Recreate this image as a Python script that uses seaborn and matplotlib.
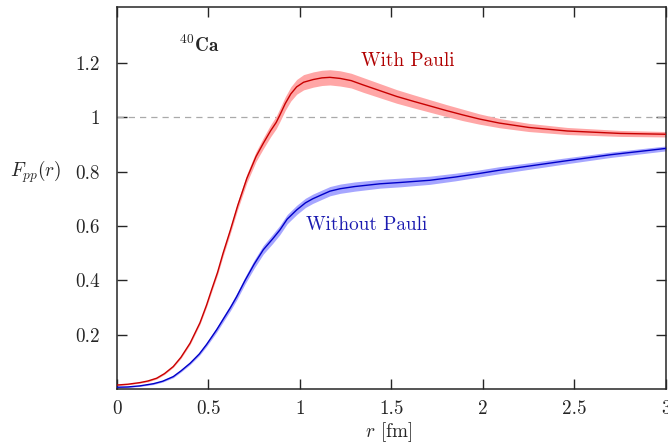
import numpy as np
import pandas as pd
import matplotlib
matplotlib.use("Agg")
import matplotlib.pyplot as plt
import seaborn as sns

# values
r_red = [0, 0.06, 0.126, 0.17, 0.217, 0.26, 0.308, 0.35, 0.40, 0.454, 0.49, 0.517, 0.55, 0.58,
         0.62, 0.66, 0.71, 0.76, 0.80, 0.84, 0.87, 0.89, 0.92, 0.95, 0.982, 1.02, 1.073, 1.12,
         1.164, 1.22, 1.28, 1.346, 1.437, 1.528, 1.62, 1.71, 1.8, 1.89, 1.98, 2.09, 2.25, 2.46,
         2.75, 3.0]
f_red = [0.016, 0.019, 0.025, 0.031, 0.041, 0.058, 0.084, 0.118, 0.17, 0.245, 0.31, 0.365,
         0.43, 0.50, 0.585, 0.675, 0.775, 0.855, 0.904, 0.95, 0.98, 1.007, 1.05, 1.085, 1.111,
         1.128, 1.138, 1.144, 1.146, 1.142, 1.134, 1.118, 1.097, 1.076, 1.058, 1.041, 1.024, 1.008,
         0.993, 0.978, 0.962, 0.949, 0.94, 0.937]
err_red = [0.002, 0.002, 0.002, 0.003, 0.003, 0.003, 0.003, 0.004, 0.005, 0.006, 0.007, 0.008,
           0.009, 0.011, 0.012, 0.014, 0.016, 0.018, 0.02, 0.022, 0.023, 0.024, 0.025, 0.026,
           0.027, 0.028, 0.028, 0.028, 0.028, 0.028, 0.027, 0.027, 0.026, 0.025, 0.024, 0.023,
           0.022, 0.021, 0.019, 0.017, 0.015, 0.013, 0.011, 0.01]

r_blue = [0, 0.06, 0.126, 0.2, 0.25, 0.308, 0.35, 0.40, 0.45, 0.49, 0.546, 0.58, 0.62, 0.654,
          0.70, 0.75, 0.80, 0.85, 0.89, 0.93, 0.982, 1.03, 1.07, 1.12, 1.164, 1.22, 1.3, 1.437,
          1.55, 1.71, 1.85, 1.98, 2.09, 2.25, 2.46, 2.7, 3.0]
f_blue = [0.008, 0.009, 0.013, 0.021, 0.03, 0.047, 0.068, 0.096, 0.13, 0.165, 0.22, 0.257, 0.30,
          0.34, 0.40, 0.46, 0.513, 0.552, 0.585, 0.625, 0.659, 0.685, 0.70, 0.715, 0.728, 0.737,
          0.745, 0.755, 0.76, 0.768, 0.78, 0.793, 0.805, 0.82, 0.84, 0.862, 0.885]
err_blue = [0.002, 0.002, 0.002, 0.003, 0.003, 0.004, 0.004, 0.005, 0.006, 0.007, 0.009, 0.01,
            0.011, 0.012, 0.013, 0.015, 0.016, 0.017, 0.017, 0.017, 0.017, 0.017, 0.017, 0.017,
            0.017, 0.017, 0.017, 0.016, 0.016, 0.015, 0.014, 0.013, 0.013, 0.012, 0.011, 0.01,
            0.009]

x_ticks = [0, 0.5, 1, 1.5, 2, 2.5, 3]
x_labels = ["0", "0.5", "1", "1.5", "2", "2.5", "3"]
y_ticks = [0.2, 0.4, 0.6, 0.8, 1.0, 1.2]
y_labels = ["0.2", "0.4", "0.6", "0.8", "1", "1.2"]

sns.set_style("ticks")
plt.rcParams.update({
    "font.family": "serif",
    "font.serif": ["cmr10"],
    "mathtext.fontset": "cm",
    "axes.unicode_minus": False,
    "axes.linewidth": 1.1,
    "xtick.direction": "in",
    "ytick.direction": "in",
    "xtick.major.size": 7,
    "ytick.major.size": 7,
    "xtick.major.width": 1.0,
    "ytick.major.width": 1.0,
    "xtick.top": True,
    "ytick.right": True,
})

red_df = pd.DataFrame({"r": r_red, "F": f_red, "err": err_red})
blue_df = pd.DataFrame({"r": r_blue, "F": f_blue, "err": err_blue})

fig = plt.figure(figsize=(6.68, 4.43), dpi=100)
ax = fig.add_axes([0.175, 0.121, 0.822, 0.863])

ax.axhline(1.0, color="#aaaaaa", lw=0.9, ls=(0, (5, 4)), zorder=1)

ax.fill_between(red_df["r"], red_df["F"] - red_df["err"], red_df["F"] + red_df["err"],
                color="#ffa6a6", lw=0, zorder=2)
ax.fill_between(blue_df["r"], blue_df["F"] - blue_df["err"], blue_df["F"] + blue_df["err"],
                color="#a6a6ff", lw=0, zorder=2)
sns.lineplot(data=red_df, x="r", y="F", color="#c80000", lw=1.0, ax=ax, zorder=3)
sns.lineplot(data=blue_df, x="r", y="F", color="#0000c8", lw=1.0, ax=ax, zorder=3)

ax.text(1.59, 1.205, "With Pauli", color="#b00000", fontsize=13.8, ha="center", va="center")
ax.text(1.366, 0.604, "Without Pauli", color="#1a1ab0", fontsize=13.8, ha="center", va="center")
ax.text(0.45, 1.264, r"$^{40}\mathbf{Ca}$", fontsize=13.8, ha="center", va="center")

ax.set_xlim(0, 3)
ax.set_ylim(0, 1.404)
ax.set_xticks(x_ticks)
ax.set_xticklabels(x_labels, fontsize=13.8)
ax.set_yticks(y_ticks)
ax.set_yticklabels(y_labels, fontsize=13.8)
ax.tick_params(axis="x", pad=8)
ax.tick_params(axis="y", pad=12)

ax.set_xlabel(r"$r$ [fm]", fontsize=13.8, va="center", ha="center")
ax.set_ylabel(r"$F_{pp}(r)$", fontsize=13.8, rotation=0, va="center", ha="center")
ax.xaxis.set_label_coords(0.494, -0.111)
ax.yaxis.set_label_coords(-0.148, 0.569)

fig.savefig("out.png", dpi=100)
